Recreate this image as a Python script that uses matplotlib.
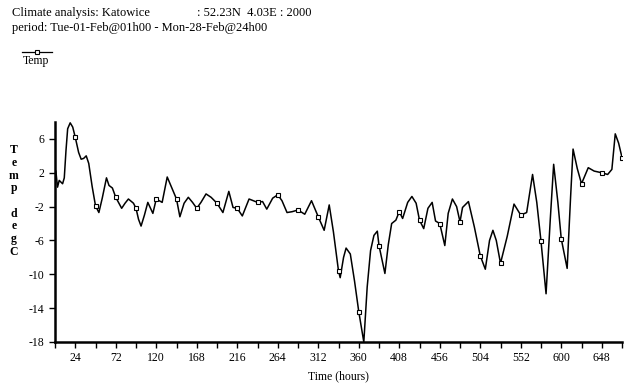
import matplotlib
matplotlib.use("Agg")
import matplotlib.pyplot as plt
from matplotlib.ticker import MultipleLocator

# Data (hour of month, temperature in degC)
hours = [1, 3, 5, 9, 11, 13, 15, 18, 21, 24, 28, 31, 34, 37, 40, 44, 48, 52,
         56, 61, 64, 68, 72, 79, 83, 87, 93, 96, 99, 102, 106, 110, 116, 120,
         127, 133, 139, 144, 148, 153, 158, 163, 168, 173, 179, 185, 192, 199,
         206, 211, 216, 222, 230, 240, 246, 251, 258, 264, 269, 275, 281, 288,
         296, 304, 312, 319, 325, 330, 336, 338, 342, 345, 350, 355, 360, 366,
         370, 374, 378, 382, 384, 391, 395, 399, 404, 408, 412, 418, 423, 428,
         432, 437, 442, 447, 451, 456, 462, 466, 471, 476, 480, 483, 490, 497,
         504, 510, 515, 519, 523, 528, 536, 544, 552, 559, 566, 571, 576, 582,
         587, 591, 596, 600, 607, 611, 614, 619, 624, 632, 639, 648, 655, 660,
         664, 668, 672]
temp = [2.2, 0.3, 1.1, 0.7, 1.4, 4.6, 7.2, 7.9, 7.4, 6.2, 4.4, 3.6, 3.7, 4.0,
        3.1, 0.4, -1.9, -2.7, -1.0, 1.4, 0.5, 0.2, -0.9, -2.2, -1.6, -1.1,
        -1.6, -2.2, -3.5, -4.3, -3.0, -1.5, -2.8, -1.1, -1.5, 1.5, 0.1, -1.1,
        -3.2, -1.6, -0.9, -1.5, -2.2, -1.5, -0.5, -0.9, -1.6, -2.7, -0.2, -2.1,
        -2.2, -3.1, -1.1, -1.5, -1.4, -2.3, -1.0, -0.6, -1.3, -2.7, -2.6, -2.4,
        -2.9, -1.3, -3.2, -4.8, -1.8, -5.0, -9.6, -10.4, -8.0, -6.9, -7.6,
        -10.8, -14.4, -18.0, -11.5, -7.2, -5.4, -4.9, -6.6, -9.9, -6.5, -4.0,
        -3.6, -2.6, -3.4, -1.5, -0.8, -1.6, -3.6, -4.6, -2.2, -1.5, -3.7, -4.0,
        -6.6, -2.8, -1.1, -2.0, -3.8, -2.1, -1.4, -4.4, -7.8, -9.4, -6.0, -4.8,
        -6.0, -8.7, -5.5, -1.7, -3.0, -2.7, 1.8, -1.5, -6.1, -12.3, -3.5, 3.0,
        -1.5, -5.8, -9.3, -1.0, 4.8, 2.5, 0.7, 2.6, 2.2, 2.0, 1.8, 2.4, 6.6,
        5.5, 3.8]
x_ticks = list(range(24, 649, 48))
y_ticks = [6, 2, -2, -6, -10, -14, -18]

title_left = "Climate analysis: Katowice"
title_right = ": 52.23N  4.03E : 2000"
period = "period: Tue-01-Feb@01h00 - Mon-28-Feb@24h00"
series_name = "Temp"

plt.rcParams['font.family'] = ['Liberation Serif', 'DejaVu Serif']
plt.rcParams['axes.unicode_minus'] = False

W, H = 636, 383
fig = plt.figure(figsize=(W / 100, H / 100), dpi=100)
ax = fig.add_axes([55 / W, 1 - 342 / H, (622 - 55) / W, (342 - 122) / H])

mark_idx = [i for i, h in enumerate(hours) if h % 24 == 0]
ax.plot(hours, temp, color='black', lw=1.1, marker='s', markersize=3.2,
        markerfacecolor='white', markeredgecolor='black', markeredgewidth=0.8,
        markevery=mark_idx, solid_joinstyle='round')

ax.set_xlim(0, 672)
ax.set_ylim(-18, 8)
ax.set_xticks(x_ticks)
ax.xaxis.set_minor_locator(MultipleLocator(24))
ax.set_yticks(y_ticks)
ax.tick_params(axis='both', which='major', direction='out', length=4, width=1,
               labelsize=8.5, colors='black')
ax.tick_params(axis='x', which='minor', direction='out', length=4, width=1)
for s in ['top', 'right']:
    ax.spines[s].set_visible(False)
for s in ['left', 'bottom']:
    ax.spines[s].set_linewidth(1.8)

ax.set_xlabel("Time (hours)", fontsize=8.5, labelpad=4)

fig.text(12 / W, 1 - 13 / H, title_left, fontsize=9, va='center', ha='left')
fig.text(197 / W, 1 - 13 / H, title_right, fontsize=9, va='center', ha='left')
fig.text(12 / W, 1 - 28 / H, period, fontsize=9, va='center', ha='left')

# legend
fig.add_artist(plt.Line2D([22 / W, 52 / W], [1 - 52 / H, 1 - 52 / H], color='black',
                          lw=0.9, transform=fig.transFigure))
fig.add_artist(plt.Line2D([37 / W], [1 - 52 / H], marker='s', markersize=3,
                          markerfacecolor='white', markeredgecolor='black',
                          markeredgewidth=0.8, transform=fig.transFigure))
fig.text(23 / W, 1 - 61 / H, series_name, fontsize=8.5, va='center', ha='left')

# vertical stacked y label
fig.text(14 / W, 1 - 201 / H, "T\ne\nm\np\n\nd\ne\ng\nC", fontsize=8.5,
         va='center', ha='center', linespacing=1.08, fontweight='bold')

fig.savefig("out.png", dpi=100)
